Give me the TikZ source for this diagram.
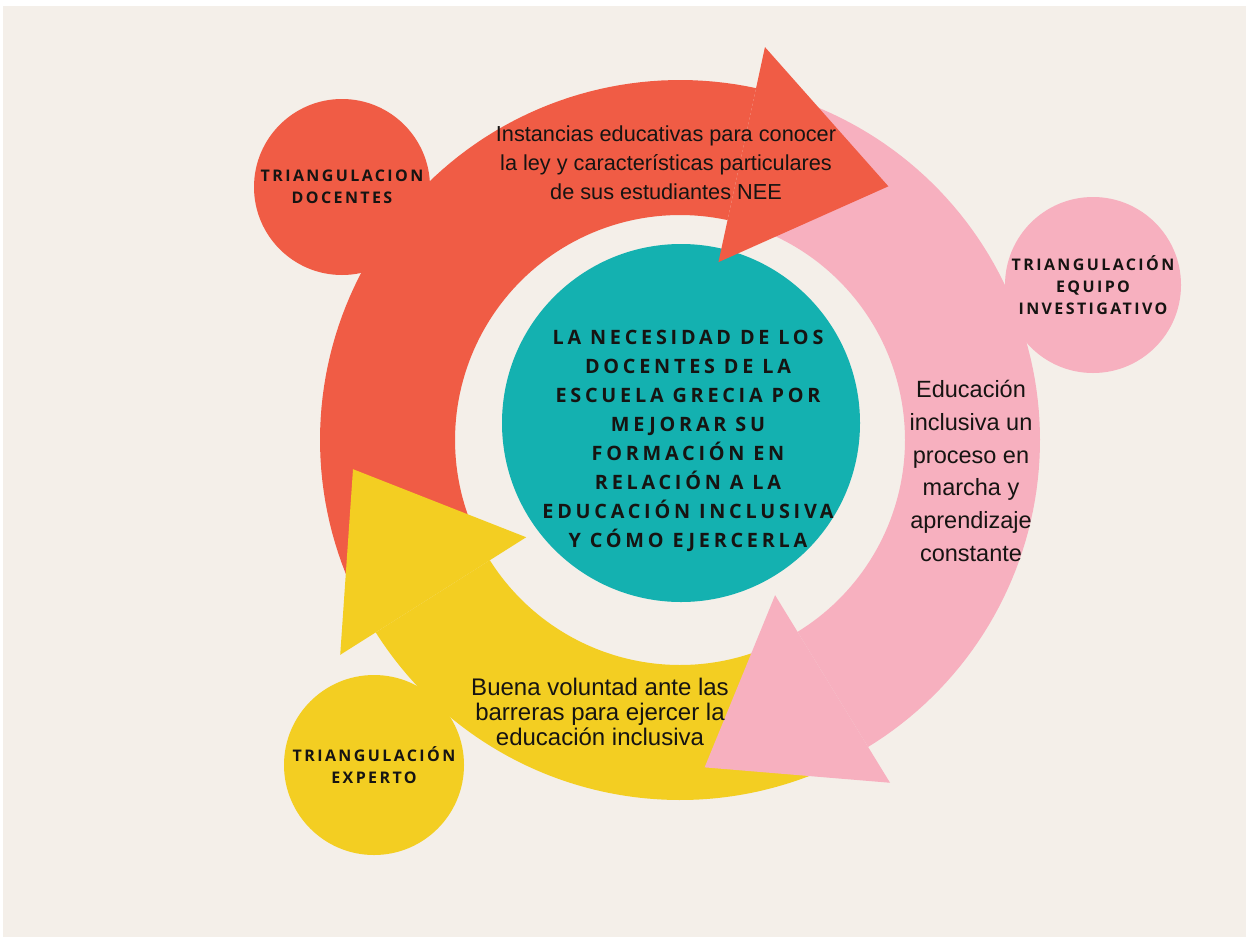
\documentclass[tikz,border=0pt]{standalone}
\usepackage{fontspec}
\setmainfont{Liberation Sans}
\newfontfamily\capsfont{Open Sans}[LetterSpace=15]
\newfontfamily\hubfont{Open Sans}[LetterSpace=19]

\definecolor{fondo}{RGB}{244,239,233}
\definecolor{coral}{RGB}{240,92,69}
\definecolor{rosa}{RGB}{247,176,191}
\definecolor{mostaza}{RGB}{243,206,34}
\definecolor{turquesa}{RGB}{20,177,176}
\definecolor{tinta}{RGB}{22,20,18}

\tikzset{
  bubble/.style={circle, inner sep=0pt, minimum size=176pt, align=center, text=tinta,
    font=\capsfont\bfseries\fontsize{16}{22}\selectfont},
  caption/.style={inner sep=0pt, align=center, text=tinta}
}

\begin{document}
\begin{tikzpicture}[x=1pt, y=-1pt]
  % fondo
  \fill[white] (0,0) rectangle (1246,937);
  \fill[fondo] (3,6) rectangle (1246,937);

  \coordinate (ring) at (680,440);
  \node[circle, fill=turquesa, minimum size=358pt, inner sep=0pt] (hub) at (681,423) {};

  % anillo de flechas
  \begin{scope}[shift={(ring)}]
    \foreach \a/\b/\col in {150/282.2/coral, -70/58.5/rosa, 65/147.7/mostaza}
      \fill[\col] plot[domain=\a:\b, samples=80] (\x:360)
        -- plot[domain=\b:\a, samples=80] (\x:225) -- cycle;
    \foreach \a/\col in {-77.8/coral, 58.5/rosa, 147.7/mostaza}
      \fill[\col] (\a:182) -- (\a:402) -- ({\a+27.2}:328.3) -- cycle;
  \end{scope}

  \node[bubble, fill=coral] (docentes) at (342,187) {TRIANGULACION\\DOCENTES};
  \node[bubble, fill=rosa] (equipo) at (1093,285) {TRIANGULACIÓN\\EQUIPO\\INVESTIGATIVO};
  \node[bubble, fill=mostaza, minimum size=180pt] (experto) at (374,765) {TRIANGULACIÓN\\EXPERTO};

  \node[caption, font=\hubfont\bfseries\fontsize{19.8}{28.9}\selectfont] (hubtext) at (688,441)
    {LA NECESIDAD DE LOS\\DOCENTES DE LA\\ESCUELA GRECIA POR\\MEJORAR SU\\FORMACIÓN EN\\RELACIÓN A LA\\EDUCACIÓN INCLUSIVA\\Y CÓMO EJERCERLA};

  \node[caption, font=\fontsize{21.7}{29}\selectfont] (instancias) at (666,163)
    {Instancias educativas para conocer\\la ley y características particulares\\de sus estudiantes NEE};
  \node[caption, font=\fontsize{23.5}{32.7}\selectfont] (proceso) at (971,471)
    {Educación\\inclusiva un\\proceso en\\marcha y\\aprendizaje\\constante};
  \node[caption, font=\fontsize{24}{25}\selectfont] (voluntad) at (600,712)
    {Buena voluntad ante las\\barreras para ejercer la\\educación inclusiva};
\end{tikzpicture}
\end{document}
